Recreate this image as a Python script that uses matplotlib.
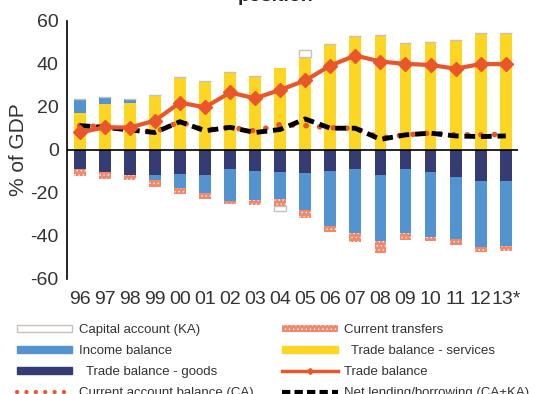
import numpy as np
import matplotlib
matplotlib.use('Agg')
import matplotlib.pyplot as plt
from matplotlib.patches import Patch
from matplotlib.lines import Line2D

plt.rcParams['font.family'] = ['Liberation Sans', 'DejaVu Sans']
plt.rcParams['hatch.linewidth'] = 0.6
plt.rcParams['axes.unicode_minus'] = False

# data (% of GDP)
years = ['96', '97', '98', '99', '00', '01', '02', '03', '04', '05',
         '06', '07', '08', '09', '10', '11', '12', '13*']
goods = [-9.0, -10.5, -11.6, -11.8, -11.2, -11.6, -8.8, -9.8, -10.1, -10.7,
         -9.6, -8.8, -11.6, -8.8, -10.1, -12.4, -14.3, -14.3]
services = [17.1, 21.5, 22.0, 25.6, 33.8, 32.1, 36.3, 34.3, 38.1, 43.1,
            49.3, 53.2, 53.6, 49.8, 50.4, 50.9, 54.4, 54.3]
income = [6.6, 3.0, 1.7, -2.2, -6.3, -8.6, -14.9, -13.5, -12.5, -17.2,
          -25.7, -30.0, -30.9, -30.0, -30.5, -29.0, -31.0, -30.4]
transfers = [-2.9, -3.1, -2.4, -3.1, -2.8, -2.7, -1.4, -2.4, -3.3, -3.6,
             -3.1, -4.0, -5.6, -3.2, -1.7, -2.6, -2.3, -2.4]
capital = [0, 0, 0, 0, 0, 0, 0, 0, -2.3, 3.3,
           0, 0, 0, 0, 0, 0, 0, 0]
trade_bal = [8.1, 10.5, 10.4, 13.6, 22.0, 19.8, 26.7, 24.0, 27.9, 32.3,
             39.2, 43.9, 41.1, 40.0, 39.5, 37.8, 39.9, 39.9]
ca_bal = [11.3, 10.8, 9.5, 8.3, 13.1, 9.2, 10.5, 8.8, 11.8, 11.3,
          10.3, 10.0, 5.6, 7.0, 7.8, 7.0, 7.0, 7.2]
net_lending = [11.3, 10.5, 9.3, 8.1, 13.1, 8.9, 10.5, 8.1, 9.5, 14.4,
               10.1, 10.1, 4.9, 7.0, 7.8, 6.5, 6.2, 6.5]

c_yellow = '#FDD623'
c_blue = '#5394D0'
c_navy = '#353B73'
c_orange = '#E85629'
c_salmon = '#F0896B'
c_dots = '#FCE3DA'

x = np.arange(len(years))
w = 0.47

fig = plt.figure(figsize=(5.41, 3.94), dpi=100)
ax = fig.add_axes([0.124, 0.292, 0.834, 0.655])

# stack positives and negatives separately
pos = np.zeros(len(x))
neg = np.zeros(len(x))

def stack(vals, **kw):
    global pos, neg
    vals = np.array(vals, dtype=float)
    bottoms = np.where(vals >= 0, pos, neg)
    ax.bar(x, vals, w, bottom=bottoms, **kw)
    pos = pos + np.clip(vals, 0, None)
    neg = neg + np.clip(vals, None, 0)

stack(goods, color=c_navy, zorder=2)
stack(services, color=c_yellow, zorder=2)
stack(income, color=c_blue, zorder=2)
stack(transfers, facecolor=c_salmon, edgecolor=c_dots, hatch='....',
      linewidth=0, zorder=2)
stack(capital, facecolor='white', edgecolor='#C8C0BC', linewidth=1, zorder=2)

ax.axhline(0, color='black', lw=1.2, zorder=3)

ax.plot(x, ca_bal, color=c_orange, lw=4, linestyle=(0, (0.05, 2.4)),
        dash_capstyle='round', zorder=4)
ax.plot(x, net_lending, color='black', lw=3.5, linestyle=(0, (2.2, 1.2)),
        zorder=5)
ax.plot(x, trade_bal, color=c_orange, lw=3, marker='D', markersize=7,
        zorder=6)

ax.set_xlim(-0.5, 17.5)
ax.set_ylim(-60, 60)
ax.set_yticks([-60, -40, -20, 0, 20, 40, 60])
ax.set_xticks(x)
ax.set_xticklabels(years)
ax.tick_params(axis='both', length=0, labelsize=14, colors='#333333')
ax.tick_params(axis='x', pad=9)
ax.tick_params(axis='y', pad=6)
for s in ['top', 'right', 'bottom']:
    ax.spines[s].set_visible(False)
ax.spines['left'].set_linewidth(1.2)
ax.set_ylabel('% of GDP', fontsize=15, color='#333333', labelpad=2)

# title mostly off the top of the image
fig.text(0.51, 0.997, 'position', ha='center', va='baseline',
         fontsize=14, fontweight='bold', color='#222222')

handles = [
    Patch(facecolor='white', edgecolor='#C8C0BC', lw=1),
    Patch(facecolor=c_blue, edgecolor=c_blue),
    Patch(facecolor=c_navy, edgecolor=c_navy),
    Line2D([], [], color=c_orange, lw=3, linestyle=(0, (0.05, 2.2)),
           dash_capstyle='round'),
    Patch(facecolor=c_salmon, edgecolor=c_dots, hatch='....', lw=0),
    Patch(facecolor=c_yellow, edgecolor=c_yellow),
    Line2D([], [], color=c_orange, lw=2.5, marker='D', markersize=3),
    Line2D([], [], color='black', lw=3, linestyle=(0, (2, 1))),
]
labels = ['Capital account (KA)', 'Income balance', '  Trade balance - goods',
          'Current account balance (CA)', 'Current transfers',
          '  Trade balance - services', 'Trade balance',
          'Net lending/borrowing (CA+KA)']
fig.legend(handles, labels, loc='upper left', bbox_to_anchor=(0.009, 0.208),
           ncol=2, frameon=False, fontsize=9.5, handlelength=4.2,
           handleheight=0.45, labelspacing=0.68, columnspacing=2.2,
           handletextpad=0.5, labelcolor='#333333')

fig.savefig('out.png', dpi=100)
